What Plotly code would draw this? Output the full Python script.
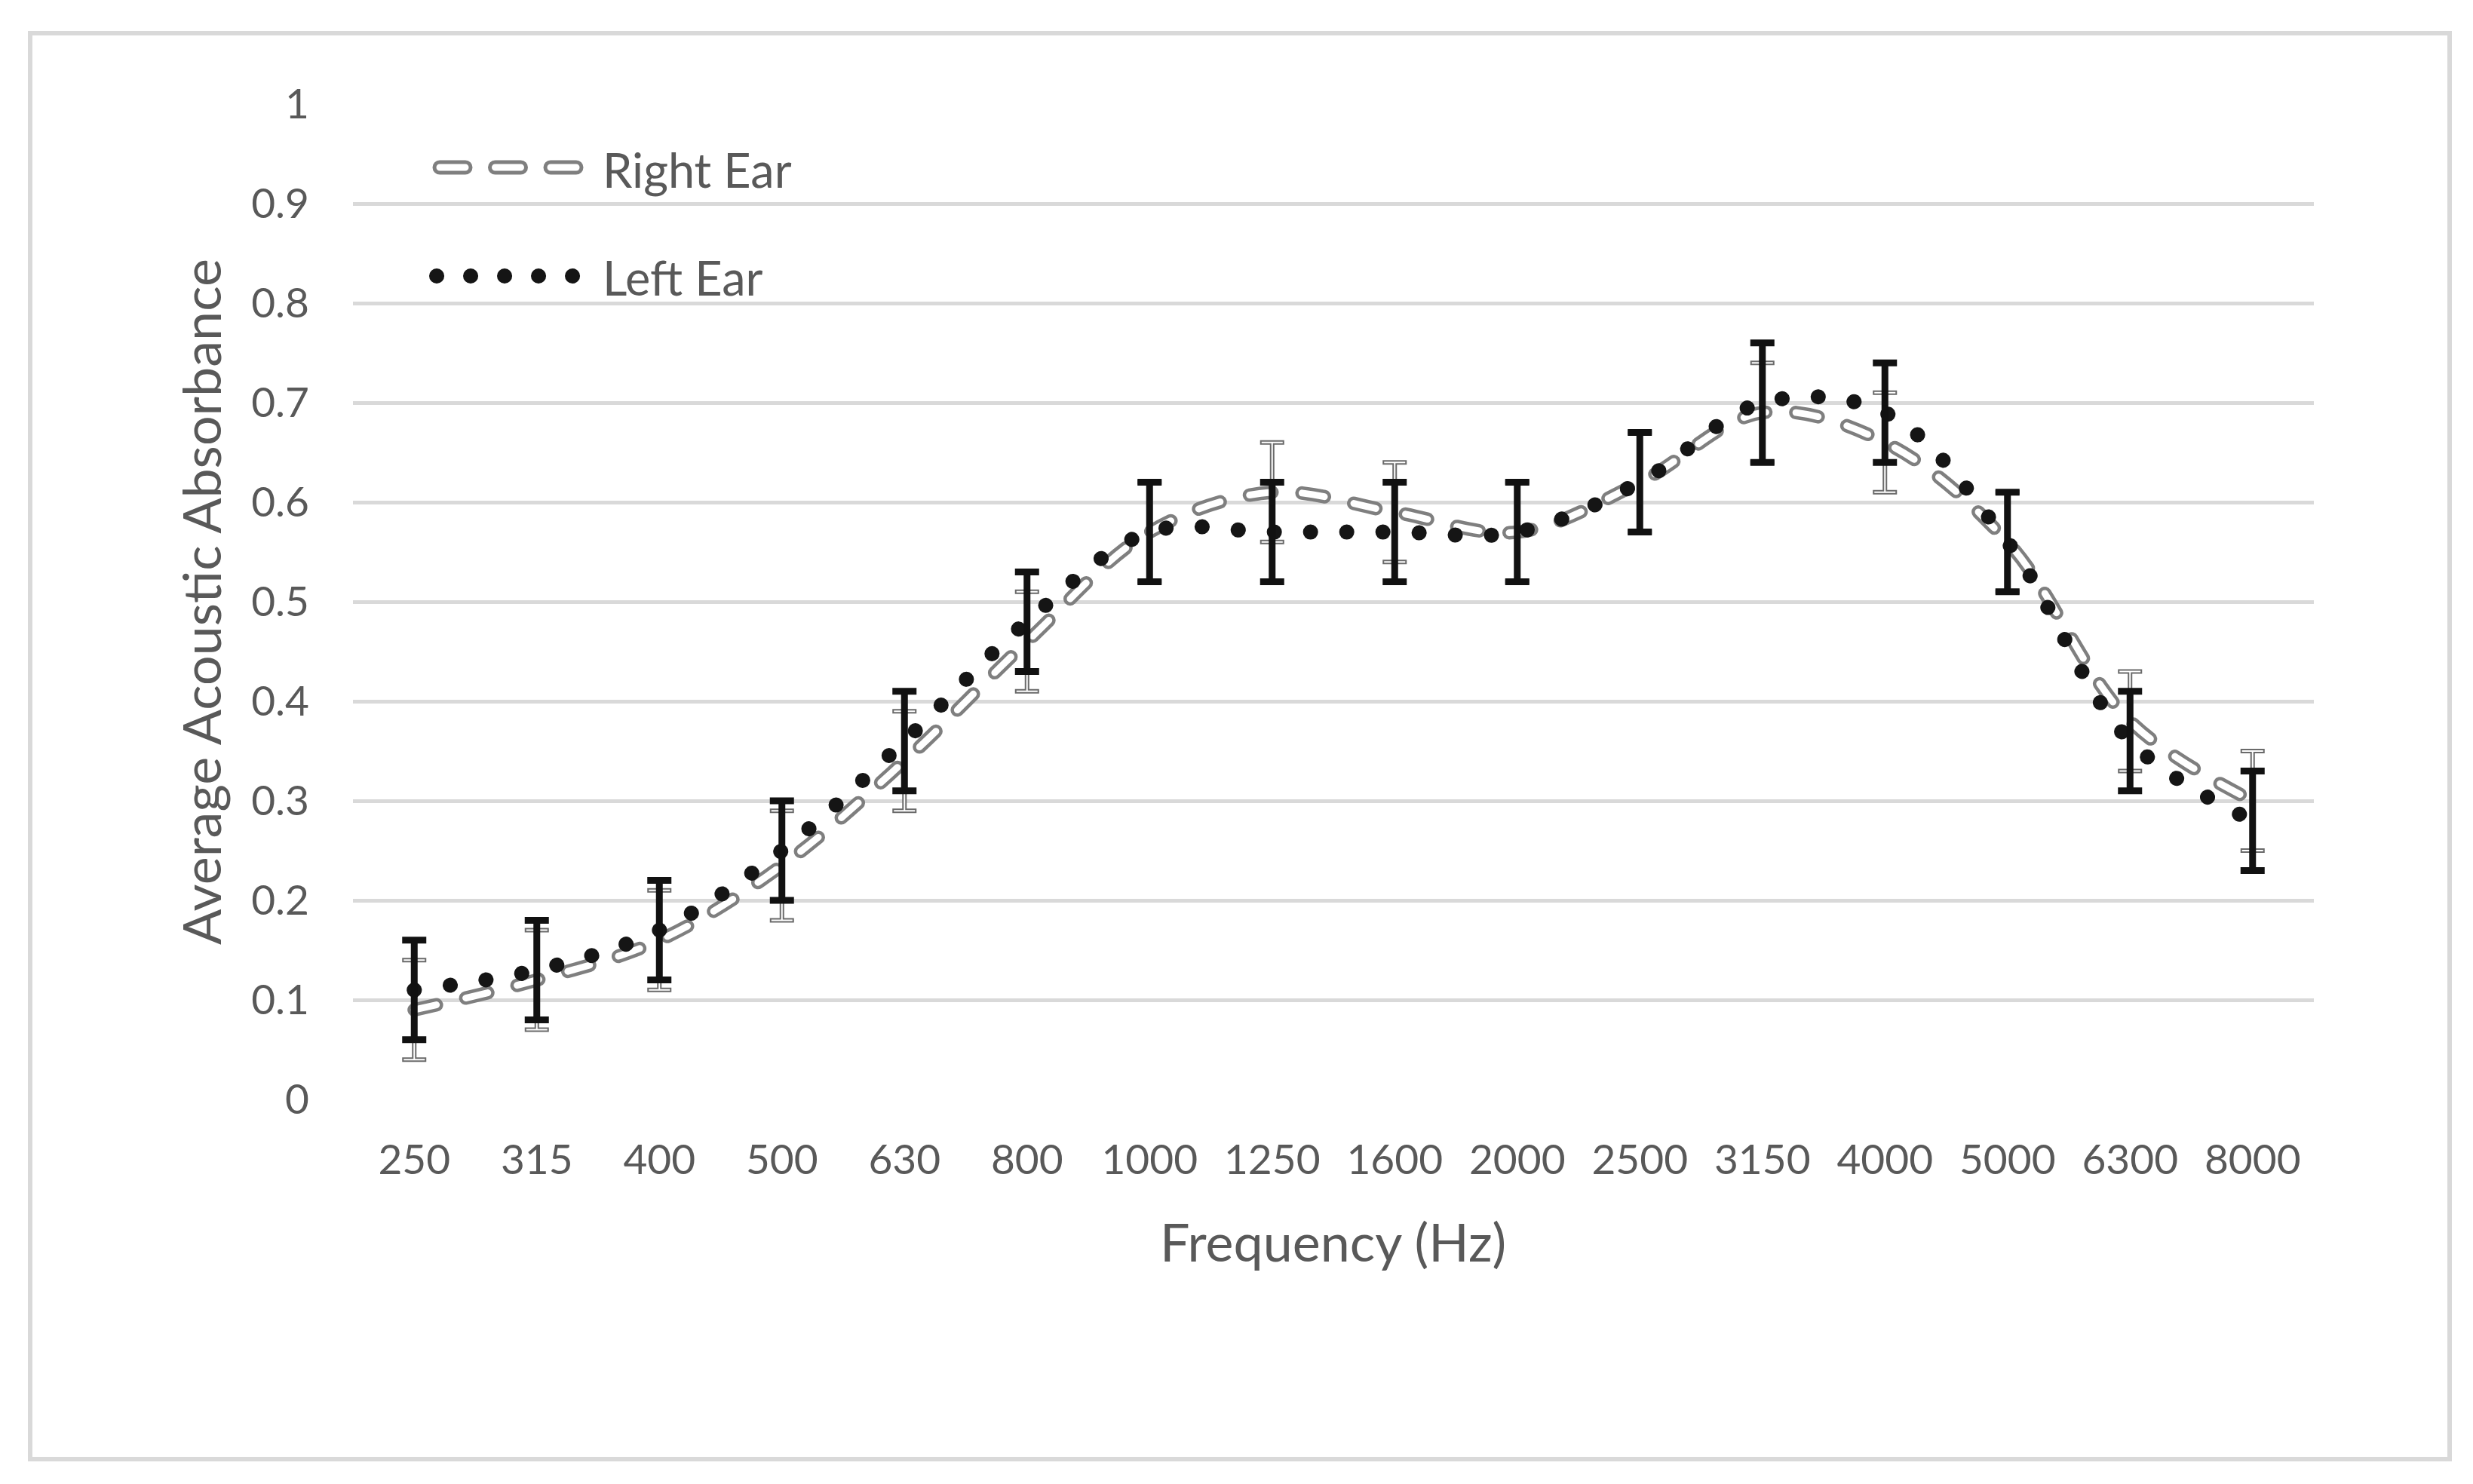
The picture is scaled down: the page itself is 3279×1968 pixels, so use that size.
import plotly.graph_objects as go

# ---------------- data ----------------
freq_labels = ["250", "315", "400", "500", "630", "800", "1000", "1250",
               "1600", "2000", "2500", "3150", "4000", "5000", "6300", "8000"]
right_ear = [0.09, 0.12, 0.16, 0.235, 0.34, 0.46, 0.57, 0.61,
             0.59, 0.57, 0.62, 0.69, 0.66, 0.56, 0.38, 0.30]
right_err = [0.05, 0.05, 0.05, 0.055, 0.05, 0.05, 0.05, 0.05,
             0.05, 0.05, 0.05, 0.05, 0.05, 0.05, 0.05, 0.05]
left_ear = [0.11, 0.13, 0.17, 0.25, 0.36, 0.48, 0.57, 0.57,
            0.57, 0.57, 0.62, 0.70, 0.69, 0.56, 0.36, 0.28]
left_err = [0.05, 0.05, 0.05, 0.05, 0.05, 0.05, 0.05, 0.05,
            0.05, 0.05, 0.05, 0.06, 0.05, 0.05, 0.05, 0.05]
y_tick_vals = [0, 0.1, 0.2, 0.3, 0.4, 0.5, 0.6, 0.7, 0.8, 0.9, 1]
y_tick_text = ["0", "0.1", "0.2", "0.3", "0.4", "0.5", "0.6", "0.7", "0.8", "0.9", "1"]
series_names = ["Right Ear", "Left Ear"]
x_title = "Frequency (Hz)"
y_title = "Average Acoustic Absorbance"

# ---------------- layout constants (pixels) ----------------
W, H = 3279, 1968
PL, PR, PT, PB = 468, 3068, 138, 1458      # plot area edges
PW, PH = PR - PL, PB - PT
FONT = "Lato"
TXT = "#595959"
GRID = "#d9d9d9"
R_GREY = "#7f7f7f"
R_BAR = "#6a6a6a"
DOT = "#151515"


def px_x(px):
    return (px - PL) / PW


def px_y(py):
    return (PB - py) / PH


fig = go.Figure()

# Right ear: outlined dashes (grey thick + white core)
fig.add_trace(go.Scatter(
    x=freq_labels, y=right_ear, mode="lines", name=series_names[0],
    line=dict(color=R_GREY, width=18, dash="30px,40px", shape="spline", smoothing=1),
    showlegend=False, hoverinfo="skip"))
fig.add_trace(go.Scatter(
    x=freq_labels, y=right_ear, mode="lines", name=series_names[0],
    line=dict(color="white", width=9, dash="30px,40px", shape="spline", smoothing=1),
    showlegend=False, hoverinfo="skip"))

# Left ear: round dots
fig.add_trace(go.Scatter(
    x=freq_labels, y=left_ear, mode="lines", name=series_names[1],
    line=dict(color=DOT, width=20, dash="0.1px,47.9px", shape="spline", smoothing=1),
    showlegend=False, hoverinfo="skip"))

# Error bars: right ear (grey double line) below, left ear (black) on top
fig.add_trace(go.Scatter(
    x=freq_labels, y=right_ear, mode="markers", name=series_names[0],
    marker=dict(size=1, color="rgba(0,0,0,0)"),
    error_y=dict(type="data", array=right_err, color=R_BAR, thickness=6, width=16),
    showlegend=False, hoverinfo="skip"))
fig.add_trace(go.Scatter(
    x=freq_labels, y=right_ear, mode="markers", name=series_names[0],
    marker=dict(size=1, color="rgba(0,0,0,0)"),
    error_y=dict(type="data", array=right_err, color="white", thickness=2, width=14),
    showlegend=False, hoverinfo="skip"))
fig.add_trace(go.Scatter(
    x=freq_labels, y=left_ear, mode="markers", name=series_names[1],
    marker=dict(size=1, color="rgba(0,0,0,0)"),
    error_y=dict(type="data", array=left_err, color="#111111", thickness=9, width=16),
    showlegend=False, hoverinfo="skip"))

# ---------------- legend (drawn manually, Excel style) ----------------
shapes = []
ry = px_y(222)
ly = px_y(366)
shapes.append(dict(type="line", xref="paper", yref="paper",
                   x0=px_x(583), x1=px_x(764), y0=ry, y1=ry,
                   line=dict(color=R_GREY, width=19, dash="34px,39.5px")))
shapes.append(dict(type="line", xref="paper", yref="paper",
                   x0=px_x(583), x1=px_x(764), y0=ry, y1=ry,
                   line=dict(color="white", width=9, dash="34px,39.5px")))
shapes.append(dict(type="line", xref="paper", yref="paper",
                   x0=px_x(579), x1=px_x(759.1), y0=ly, y1=ly,
                   line=dict(color=DOT, width=20, dash="0.1px,44.9px")))
# chart-area border
shapes.append(dict(type="rect", xref="paper", yref="paper",
                   x0=px_x(40), x1=px_x(3248), y0=px_y(1935), y1=px_y(44),
                   line=dict(color=GRID, width=6), layer="below"))

annotations = [
    dict(text=series_names[0], xref="paper", yref="paper", x=px_x(797), y=px_y(224),
         xanchor="left", yanchor="middle", showarrow=False,
         font=dict(family=FONT, size=63, color=TXT)),
    dict(text=series_names[1], xref="paper", yref="paper", x=px_x(797), y=px_y(368),
         xanchor="left", yanchor="middle", showarrow=False,
         font=dict(family=FONT, size=63, color=TXT)),
    dict(text=x_title, xref="paper", yref="paper", x=px_x(1767), y=px_y(1646),
         xanchor="center", yanchor="middle", showarrow=False,
         font=dict(family=FONT, size=70, color=TXT)),
    dict(text=y_title, xref="paper", yref="paper", x=px_x(266), y=px_y(798),
         xanchor="center", yanchor="middle", showarrow=False, textangle=-90,
         font=dict(family=FONT, size=70, color=TXT)),
]

fig.update_layout(
    width=W, height=H, autosize=False,
    margin=dict(l=PL, r=W - PR, t=PT, b=H - PB, pad=0),
    paper_bgcolor="white", plot_bgcolor="white",
    showlegend=False,
    font=dict(family=FONT, color=TXT),
    shapes=shapes, annotations=annotations,
    xaxis=dict(type="category", range=[-0.5, len(freq_labels) - 0.5],
               showgrid=False, zeroline=False, showline=False,
               ticks="outside", ticklen=32, tickcolor="rgba(0,0,0,0)",
               tickfont=dict(family=FONT, size=55, color=TXT), automargin=False),
    yaxis=dict(range=[0, 1], tickvals=y_tick_vals, ticktext=y_tick_text,
               showgrid=True, gridcolor=GRID, gridwidth=5,
               zeroline=False, showline=False,
               ticks="outside", ticklen=46, tickcolor="rgba(0,0,0,0)",
               tickfont=dict(family=FONT, size=55, color=TXT), automargin=False),
)

post = ("document.body.style.margin='0';"
        "document.body.style.padding='0';"
        "var s=document.createElement('style');"
        "s.textContent='html,body{margin:0;padding:0;} .modebar-container{display:none !important;} "
        ".js-plotly-plot .scatterlayer path.js-line, "
        ".js-plotly-plot .shapelayer path{stroke-linecap:round !important;}';"
        "document.head.appendChild(s);")

fig.write_html("out.html", post_script=post, config={"displayModeBar": False})
